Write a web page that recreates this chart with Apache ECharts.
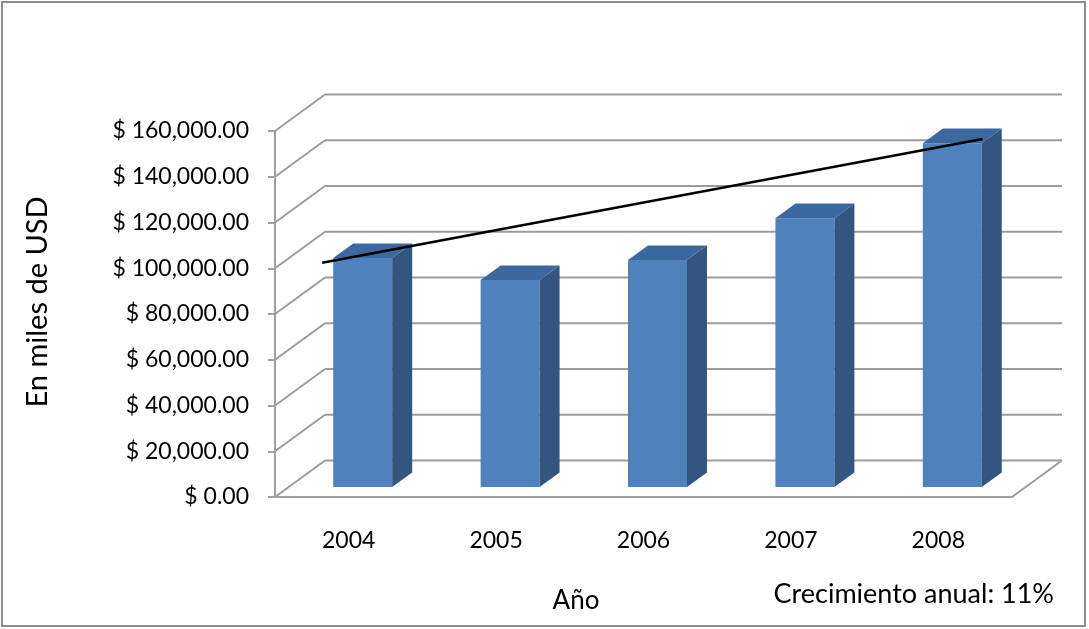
<!DOCTYPE html>
<html>
<head>
<meta charset="utf-8">
<script src="https://cdn.jsdelivr.net/npm/echarts@6/dist/echarts.min.js"></script>
<style>
  html, body { margin: 0; padding: 0; background: #fff; }
  #chart { width: 1089px; height: 629px; }
</style>
</head>
<body>
<div id="chart"></div>
<script>
// datos
var years = ['2004', '2005', '2006', '2007', '2008'];
var ventas = [100100, 90500, 99200, 117500, 150300];
var yTicks = [0, 20000, 40000, 60000, 80000, 100000, 120000, 140000, 160000];
// linea de crecimiento (dibujada a mano en el original)
var trendX = [-0.18, 4.30];
var trendY = [102400, 156500];

var depth = [50, -36.5];     // fondo de la caja 3D
var barShift = [14, -10];    // cara frontal de las barras
var barDepth = [20, -14.6];  // profundidad de cada barra

var chart = echarts.init(document.getElementById('chart'));

var font = 'Lato, "Open Sans", sans-serif';

function money(v) {
    return '$ ' + v.toLocaleString('en-US', { minimumFractionDigits: 2, maximumFractionDigits: 2 });
}

var option = {
    animation: false,
    backgroundColor: '#fff',
    textStyle: { fontFamily: font },
    grid: { left: 275, right: 77, top: 131, bottom: 132 },
    xAxis: [{
        type: 'category',
        data: years,
        axisLine: { lineStyle: { color: '#a0a0a0', width: 2 } },
        axisTick: { length: 6, lineStyle: { color: '#a0a0a0', width: 2 } },
        axisLabel: { color: '#000', fontSize: 23, fontFamily: font, margin: 32 }
    }, {
        type: 'value',
        min: -0.5,
        max: 4.5,
        show: false
    }],
    yAxis: {
        type: 'value',
        min: 0,
        max: 160000,
        interval: 20000,
        axisLine: { show: true, onZero: false, lineStyle: { color: '#a0a0a0', width: 2 } },
        axisTick: { show: true, length: 7, lineStyle: { color: '#a0a0a0', width: 2 } },
        axisLabel: { color: '#000', fontSize: 23, fontFamily: font, margin: 26, formatter: money },
        splitLine: { show: false }
    },
    graphic: [{
        type: 'rect',
        shape: { x: 2, y: 2, width: 1083, height: 624 },
        style: { fill: 'none', stroke: '#8c8c8c', lineWidth: 2 },
        z: 100
    }, {
        type: 'text',
        x: 38,
        y: 302,
        rotation: Math.PI / 2,
        style: { text: 'En miles de USD', fill: '#000', fontSize: 29, fontFamily: font, align: 'center', verticalAlign: 'middle' }
    }, {
        type: 'text',
        x: 576,
        y: 601,
        style: { text: 'Año', fill: '#000', fontSize: 26, fontFamily: font, align: 'center', verticalAlign: 'middle' }
    }, {
        type: 'text',
        x: 1054,
        y: 594,
        style: { text: 'Crecimiento anual: 11%', fill: '#000', fontSize: 27, fontFamily: font, align: 'right', verticalAlign: 'middle' }
    }],
    series: [{
        // paredes y lineas de division
        type: 'custom',
        data: yTicks.map(function (v) { return [0, v]; }),
        silent: true,
        z: 1,
        renderItem: function (params, api) {
            var cs = params.coordSys;
            var v = api.value(1);
            var y = api.coord([0, v])[1];
            var x0 = cs.x, x1 = cs.x + cs.width;
            var st = { stroke: '#9c9c9c', lineWidth: 2 };
            var children = [{
                type: 'line',
                shape: { x1: x0, y1: y, x2: x0 + depth[0], y2: y + depth[1] },
                style: st
            }, {
                type: 'line',
                shape: { x1: x0 + depth[0], y1: y + depth[1], x2: x1 + depth[0], y2: y + depth[1] },
                style: st
            }];
            if (v === 0) {
                children.push({
                    type: 'line',
                    shape: { x1: x1, y1: y, x2: x1 + depth[0], y2: y + depth[1] },
                    style: st
                });
            }
            return { type: 'group', children: children };
        }
    }, {
        // barras 3D
        type: 'custom',
        data: ventas.map(function (v, i) { return [i, v]; }),
        z: 2,
        renderItem: function (params, api) {
            var i = api.value(0);
            var base = api.coord([i, 0]);
            var top = api.coord([i, api.value(1)]);
            var w = api.size([1, 0])[0] * 0.4;
            var xl = base[0] - w / 2 + barShift[0];
            var xr = xl + w;
            var yb = base[1] + barShift[1];
            var yt = top[1] + barShift[1];
            var dx = barDepth[0], dy = barDepth[1];
            return {
                type: 'group',
                children: [{
                    type: 'rect',
                    shape: { x: xl, y: yt, width: w, height: yb - yt },
                    style: { fill: '#4f81bd' }
                }, {
                    type: 'polygon',
                    shape: { points: [[xr, yt], [xr + dx, yt + dy], [xr + dx, yb + dy], [xr, yb]] },
                    style: { fill: '#34557f' }
                }, {
                    type: 'polygon',
                    shape: { points: [[xl, yt], [xl + dx, yt + dy], [xr + dx, yt + dy], [xr, yt]] },
                    style: { fill: '#3c68a0' }
                }]
            };
        }
    }, {
        type: 'line',
        xAxisIndex: 1,
        data: trendX.map(function (x, i) { return [x, trendY[i]]; }),
        symbol: 'none',
        lineStyle: { color: '#000', width: 2.5 },
        z: 5
    }]
};

chart.setOption(option);
</script>
</body>
</html>
